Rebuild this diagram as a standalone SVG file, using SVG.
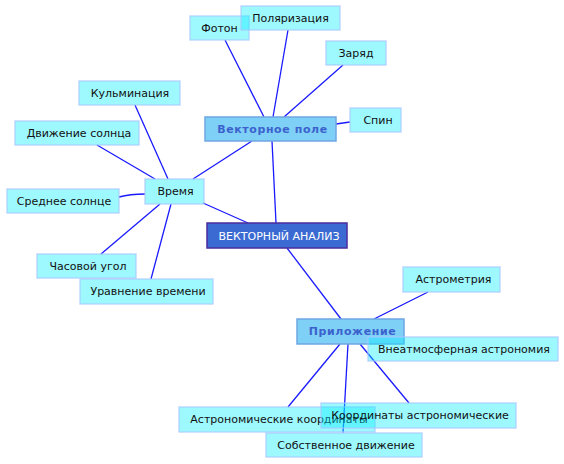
<svg xmlns="http://www.w3.org/2000/svg" width="564" height="464" viewBox="0 0 564 464">
<style>
.bg{fill:#ffffff}
.c{fill:none;stroke:#1a1aff;stroke-width:1.3}
.n rect{fill:#00eeff;fill-opacity:0.38;stroke:#a8c8ff;stroke-opacity:0.7;stroke-width:1.5}
.n text{font-family:"DejaVu Sans",sans-serif;font-size:11px;fill:#111;text-anchor:middle}
.s rect{fill:#7fd0f7;stroke:#6fa6e2;stroke-width:1.5}
.s text{font-family:"DejaVu Sans",sans-serif;font-size:11px;font-weight:bold;fill:#3b62cc;text-anchor:middle;letter-spacing:0.6px}
.r rect{fill:#3a6ad2;stroke:#4b2c9c;stroke-width:1.5}
.r text{font-family:"DejaVu Sans",sans-serif;font-size:11px;fill:#ffffff;text-anchor:middle}
</style>
<rect class="bg" x="0" y="0" width="564" height="464"/>
<g id="connectors">
<path class="c" d="M248,223 L203,203"/>
<path class="c" d="M276,223 L272,141"/>
<path class="c" d="M287,248 L341,319"/>
<path class="c" d="M193,179 L252,141"/>
<path class="c" d="M225,40 L264,117"/>
<path class="c" d="M288,30 L273,117"/>
<path class="c" d="M343,65 L284,117"/>
<path class="c" d="M350,122 L336,124"/>
<path class="c" d="M135,105 L168,179"/>
<path class="c" d="M97,145 L155,179"/>
<path class="c" d="M119,197 Q130,194 145,194"/>
<path class="c" d="M101,254 L160,204"/>
<path class="c" d="M151,279 L171,204"/>
<path class="c" d="M374,319 L428,292"/>
<path class="c" d="M360,344 L409,403"/>
<path class="c" d="M348,344 L343,433"/>
<path class="c" d="M340,344 L288,407"/>
</g>
<g id="n-foton" class="n"><rect x="190" y="16" width="59" height="24"/><text x="219.5" y="32">Фотон</text></g>
<g id="n-polar" class="n"><rect x="241" y="6" width="99" height="24"/><text x="290.5" y="22">Поляризация</text></g>
<g id="n-zaryad" class="n"><rect x="326" y="41" width="60" height="24"/><text x="356" y="57">Заряд</text></g>
<g id="n-spin" class="n"><rect x="350" y="108" width="51" height="24"/><text x="378" y="124">Спин</text></g>
<g id="n-vpole" class="s"><rect x="205" y="117" width="131" height="24"/><text x="272.5" y="133">Векторное поле</text></g>
<g id="n-kulm" class="n"><rect x="79" y="81" width="101" height="24"/><text x="130" y="97">Кульминация</text></g>
<g id="n-dvsol" class="n"><rect x="15" y="121" width="124" height="24"/><text x="79" y="137">Движение солнца</text></g>
<g id="n-vremya" class="n"><rect x="145" y="179" width="59" height="25"/><text x="175.5" y="195">Время</text></g>
<g id="n-srsol" class="n"><rect x="7" y="189" width="112" height="24"/><text x="64" y="205">Среднее солнце</text></g>
<g id="n-root" class="r"><rect x="207" y="223" width="140" height="25"/><text x="279" y="240">ВЕКТОРНЫЙ АНАЛИЗ</text></g>
<g id="n-chas" class="n"><rect x="37" y="254" width="99" height="24"/><text x="88" y="270">Часовой угол</text></g>
<g id="n-urvr" class="n"><rect x="80" y="279" width="133" height="25"/><text x="148" y="295">Уравнение времени</text></g>
<g id="n-astrom" class="n"><rect x="403" y="267" width="97" height="25"/><text x="453.5" y="283">Астрометрия</text></g>
<g id="n-prilo" class="s"><rect x="297" y="319" width="107" height="25"/><text x="352.5" y="335">Приложение</text></g>
<g id="n-vneatm" class="n"><rect x="368" y="337" width="190" height="24"/><text x="464" y="353">Внеатмосферная астрономия</text></g>
<g id="n-astrkoord" class="n"><rect x="179" y="407" width="196" height="25"/><text x="279" y="423">Астрономические координаты</text></g>
<g id="n-koordastr" class="n"><rect x="321" y="403" width="195" height="25"/><text x="420" y="419">Координаты астрономические</text></g>
<g id="n-sobdv" class="n"><rect x="266" y="433" width="156" height="24"/><text x="346" y="449">Собственное движение</text></g>
</svg>
